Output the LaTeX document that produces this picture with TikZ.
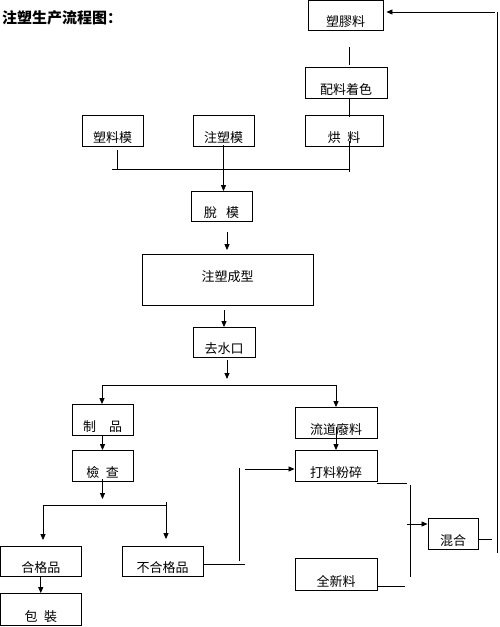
\documentclass[tikz,border=0pt]{standalone}
\usepackage{fontspec}
\setmainfont{Noto Sans CJK SC}
\usetikzlibrary{arrows.meta}
\tikzset{
  bx/.style 2 args={draw=black, line width=0.9pt, inner sep=0pt, minimum width=#1,
    text height=#2, text depth=4pt, anchor=south, font=\fontsize{13}{15}\selectfont},
  ln/.style={draw=black, line width=0.8pt},
  arr/.style={ln, -{Triangle[length=6pt,width=5pt]}}
}
\begin{document}
\begin{tikzpicture}[x=1pt,y=-1pt]
\useasboundingbox (0,0) rectangle (500,627);
% title
\node[anchor=west, inner sep=0pt, font=\fontsize{15}{18}\selectfont\bfseries] (title) at (2,18) {注塑生产流程图：};
% boxes
\node[bx={75pt}{26pt}] (sujiao) at (345.5,31) {塑膠料};
\node[bx={82pt}{27pt}] (peiliao) at (346,99) {配料着色};
\node[bx={78pt}{27pt}] (hongliao) at (344,147) {烘\hspace{0.5em}料};
\node[bx={61pt}{27pt}] (suliaomo) at (112.5,147) {塑料模};
\node[bx={61pt}{27pt}] (zhusumo) at (223.5,147) {注塑模};
\node[bx={61pt}{26pt}] (tuomo) at (221.5,222) {脫\hspace{0.7em}模};
\node[bx={171pt}{26.5pt}, text depth=24.5pt] (chengxing) at (227.5,306) {注塑成型};
\node[bx={62pt}{26pt}] (qushuikou) at (224,358) {去水口};
\node[bx={61pt}{27pt}] (zhipin) at (102.5,436) {制\hspace{1em}品};
\node[bx={61pt}{27pt}] (jiancha) at (102.5,482) {檢\hspace{0.5em}查};
\node[bx={80.5pt}{26pt}] (hege) at (40.75,577) {合格品};
\node[bx={81pt}{26pt}] (buhege) at (162.5,577) {不合格品};
\node[bx={80.5pt}{28pt}] (baozhuang) at (40.75,626) {包\hspace{0.5em}裝};
\node[bx={82pt}{27pt}] (liudao) at (336,439) {流道廢料};
\node[bx={82pt}{27pt}] (dasui) at (336,482) {打料粉碎};
\node[bx={50pt}{27pt}] (hunhe) at (453,550) {混合};
\node[bx={82pt}{28pt}] (quanxin) at (336,591) {全新料};
% coordinates
\coordinate (a1) at (349,47);
\coordinate (a2) at (349,65);
\coordinate (h1) at (349,141);
\coordinate (h2) at (349,172);
\coordinate (j1) at (112,169);
\coordinate (j2) at (349,169);
\coordinate (s1) at (117,150);
\coordinate (t1) at (227,0);
\coordinate (bL) at (102,385);
\coordinate (bR) at (336,385);
\coordinate (cL) at (43,505);
\coordinate (cR) at (166,505);
\coordinate (e1) at (245,564);
\coordinate (v1) at (239,468);
\coordinate (v2) at (239,561);
\coordinate (f1) at (245,469);
\coordinate (g1) at (407,483);
\coordinate (g2) at (410,485);
\coordinate (g3) at (410,577);
\coordinate (g4) at (407,524);
\coordinate (g5) at (405,586);
\coordinate (r1) at (492,539);
\coordinate (r2) at (497,553);
\coordinate (r3) at (497,12);
\coordinate (r4) at (495,12);
% connectors
\draw[ln] (a1) -- (a2);
\draw[ln] (peiliao.south -| a1) -- ([yshift=-2pt]hongliao.north -| a1);
\draw[ln] (h1) -- (h2);
\draw[ln] (j1) -- (j2);
\draw[ln] (s1) -- (s1 |- j1);
\draw[arr] ([yshift=2pt]zhusumo.south) -- (tuomo.north -| zhusumo.south);
\draw[arr, shorten <=10pt, shorten >=4pt] (tuomo.south -| t1) -- (chengxing.north -| t1);
\draw[arr, shorten <=4pt] (chengxing.south -| qushuikou.north) -- (qushuikou.north);
\draw[arr, shorten <=2pt, shorten >=6pt] (qushuikou.south -| t1) -- (bL -| t1);
\draw[ln] (bL) -- (bR);
\draw[arr] (bL) -- (zhipin.north -| bL);
\draw[arr] (bR) -- (liudao.north);
\draw[arr] (zhipin.south) -- (jiancha.north);
\draw[arr, shorten >=6pt] ([yshift=3pt]jiancha.south) -- (cL -| jiancha.south);
\draw[ln] (cL) -- (cR);
\draw[arr, shorten >=6pt] (cL) -- (hege.north -| cL);
\draw[arr, shorten >=7pt] ([yshift=3pt]cR) -- (buhege.north -| cR);
\draw[arr] (hege.south) -- (baozhuang.north);
\draw[ln] (buhege.east |- e1) -- (e1);
\draw[ln] (v1) -- (v2);
\draw[arr] (f1) -- (dasui.west |- f1);
\draw[arr] ([yshift=12pt]liudao.south) -- (dasui.north);
\draw[ln] (dasui.east |- g1) -- (g1);
\draw[ln] (g2) -- (g3);
\draw[arr] (g4) -- (hunhe.west |- g4);
\draw[ln] (quanxin.east |- g5) -- (g5);
\draw[ln] (hunhe.east |- r1) -- (r1);
\draw[ln] (r2) -- (r3);
\draw[arr, shorten >=3pt] (r4) -- (sujiao.east |- r4);
\end{tikzpicture}
\end{document}
